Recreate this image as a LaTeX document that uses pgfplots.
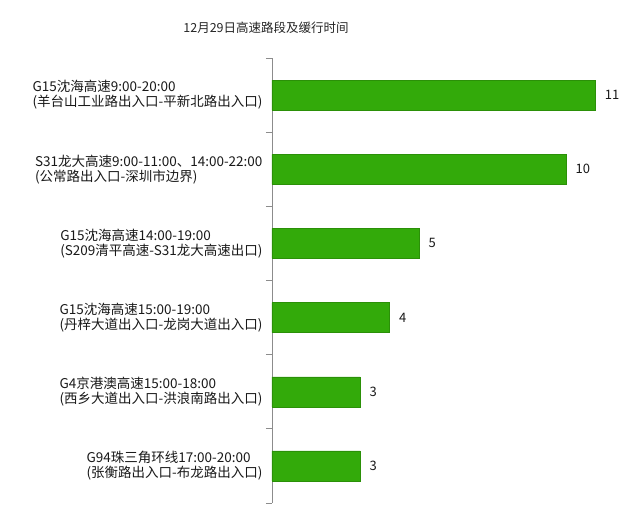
\documentclass[border=0pt]{standalone}
\usepackage{pgfplots}
\pgfplotsset{compat=1.18}
\usepackage{fontspec}
\setmainfont{Noto Sans CJK SC}
\definecolor{bargreen}{HTML}{33AA0A}
\definecolor{axgray}{HTML}{8C8C8C}
\begin{document}
\begin{tikzpicture}[x=1pt,y=1pt]
\useasboundingbox (0,0) rectangle (640,517);
\fill[white] (0,0) rectangle (640,517);
\node[font=\fontsize{12.5}{15}\selectfont, text=black!85] at (266,489) {12月29日高速路段及缓行时间};
\begin{axis}[
  at={(272pt,14pt)}, anchor=south west,
  scale only axis, width=352.8pt, height=445pt,
  xmin=0, xmax=12, ymin=-0.5, ymax=5.5, y dir=reverse,
  axis x line=none,
  axis y line*=left,
  y axis line style={draw=axgray, line width=0.8pt, -},
  xbar, bar width=30pt,
  ytick={0,1,2,3,4,5},
  yticklabels={
    {G15沈海高速9:00-20:00\\(羊台山工业路出入口-平新北路出入口)},
    {S31龙大高速9:00-11:00、14:00-22:00\\(公常路出入口-深圳市边界)},
    {G15沈海高速14:00-19:00\\(S209清平高速-S31龙大高速出口)},
    {G15沈海高速15:00-19:00\\(丹梓大道出入口-龙岗大道出入口)},
    {G4京港澳高速15:00-18:00\\(西乡大道出入口-洪浪南路出入口)},
    {G94珠三角环线17:00-20:00\\(张衡路出入口-布龙路出入口)}},
  major tick length=0pt,
  extra y ticks={-0.5,0.5,1.5,2.5,3.5,4.5,5.5},
  extra y tick labels={},
  extra y tick style={major tick length=6pt, tick style={draw=axgray, line width=0.8pt}, tick align=outside},
  yticklabel style={align=left, anchor=east, xshift=-6pt, font=\fontsize{13.5}{15}\selectfont, text=black!90},
  nodes near coords,
  every node near coord/.append style={anchor=west, xshift=6pt, font=\fontsize{13}{15}\selectfont, text=black!90},
  /pgf/number format/assume math mode=true,
  clip=false,
]
\addplot[fill=bargreen, draw=bargreen!85!black] coordinates {
 (11,0) (10,1) (5,2) (4,3) (3,4) (3,5)};
\end{axis}
\end{tikzpicture}
\end{document}
